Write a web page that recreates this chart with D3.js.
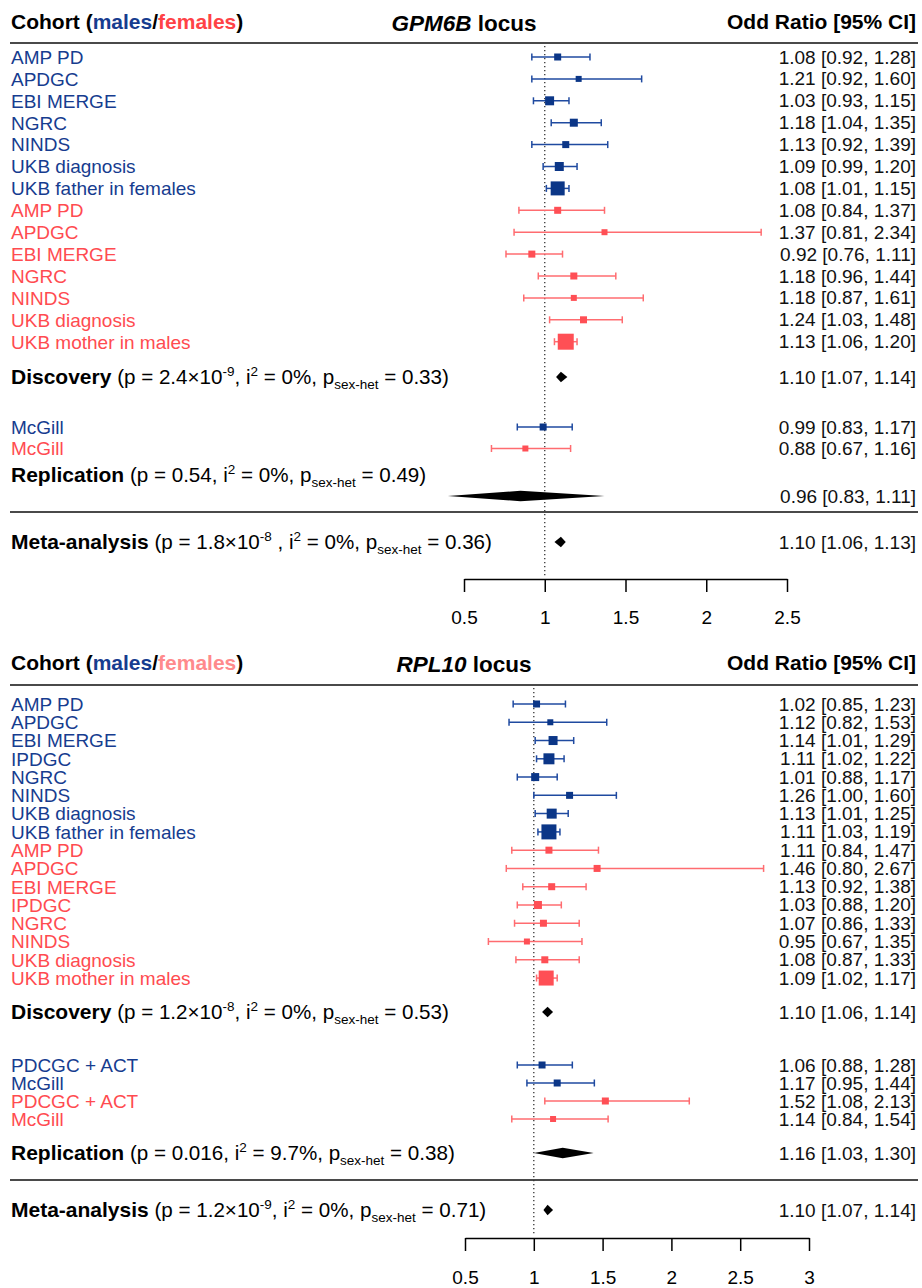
<!DOCTYPE html>
<html><head><meta charset="utf-8">
<script src="https://cdn.jsdelivr.net/npm/d3@7/dist/d3.min.js"></script>
<style>
body{margin:0;background:#fff}
svg{display:block}
text{font-family:"Liberation Sans",Arial,Helvetica,sans-serif}
</style>
</head><body>
<svg id="chart" width="922" height="1288"></svg>
<script>
// ================= GPM6B locus =================
const gpmCohorts = ["AMP PD","APDGC","EBI MERGE","NGRC","NINDS","UKB diagnosis","UKB father in females",
                    "AMP PD","APDGC","EBI MERGE","NGRC","NINDS","UKB diagnosis","UKB mother in males"];
const gpmSex = ["m","m","m","m","m","m","m","f","f","f","f","f","f","f"];
const gpmOR  = [1.08,1.21,1.03,1.18,1.13,1.09,1.08, 1.08,1.37,0.92,1.18,1.18,1.24,1.13];
const gpmLo  = [0.92,0.92,0.93,1.04,0.92,0.99,1.01, 0.84,0.81,0.76,0.96,0.87,1.03,1.06];
const gpmHi  = [1.28,1.60,1.15,1.35,1.39,1.20,1.15, 1.37,2.34,1.11,1.44,1.61,1.48,1.20];
const gpmWeight = [7,6,9,8,7,9,14, 7,6,7,7,6,7,16];

const gpmRepCohorts = ["McGill","McGill"];
const gpmRepSex = ["m","f"];
const gpmRepOR = [0.99,0.88];
const gpmRepLo = [0.83,0.67];
const gpmRepHi = [1.17,1.16];
const gpmRepWeight = [7,6];

const gpmSumLabels = ["Discovery","Replication","Meta-analysis"];
const gpmSumOR = [1.10,0.96,1.10];
const gpmSumLo = [1.07,0.83,1.06];
const gpmSumHi = [1.14,1.11,1.13];
// diamond extents as drawn in the figure
const gpmDiamondLo  = [1.07,0.40,1.06];
const gpmDiamondMid = [1.10,0.85,1.10];
const gpmDiamondHi  = [1.14,1.37,1.13];
const gpmPMantissa = ["2.4×10","0.54","1.8×10"];
const gpmPExponent = ["-9","","-8"];
const gpmPSep = [", ",", "," , "];
const gpmI2 = ["0%","0%","0%"];
const gpmPSexHet = ["0.33","0.49","0.36"];
const gpmTicks = [0.5,1,1.5,2,2.5];

// ================= RPL10 locus =================
const rplCohorts = ["AMP PD","APDGC","EBI MERGE","IPDGC","NGRC","NINDS","UKB diagnosis","UKB father in females",
                    "AMP PD","APDGC","EBI MERGE","IPDGC","NGRC","NINDS","UKB diagnosis","UKB mother in males"];
const rplSex = ["m","m","m","m","m","m","m","m","f","f","f","f","f","f","f","f"];
const rplOR  = [1.02,1.12,1.14,1.11,1.01,1.26,1.13,1.11, 1.11,1.46,1.13,1.03,1.07,0.95,1.08,1.09];
const rplLo  = [0.85,0.82,1.01,1.02,0.88,1.00,1.01,1.03, 0.84,0.80,0.92,0.88,0.86,0.67,0.87,1.02];
const rplHi  = [1.23,1.53,1.29,1.22,1.17,1.60,1.25,1.19, 1.47,2.67,1.38,1.20,1.33,1.35,1.33,1.17];
const rplWeight = [7,6,9,11,8,7,10,15, 7,7,7,8,7,6,7,15];

const rplRepCohorts = ["PDCGC + ACT","McGill","PDCGC + ACT","McGill"];
const rplRepSex = ["m","m","f","f"];
const rplRepOR = [1.06,1.17,1.52,1.14];
const rplRepLo = [0.88,0.95,1.08,0.84];
const rplRepHi = [1.28,1.44,2.13,1.54];
const rplRepWeight = [7,7,7,6];

const rplSumLabels = ["Discovery","Replication","Meta-analysis"];
const rplSumOR = [1.10,1.16,1.10];
const rplSumLo = [1.06,1.03,1.07];
const rplSumHi = [1.14,1.30,1.14];
const rplDiamondLo  = [1.06,1.00,1.07];
const rplDiamondMid = [1.10,1.21,1.10];
const rplDiamondHi  = [1.14,1.435,1.14];
const rplPMantissa = ["1.2×10","0.016","1.2×10"];
const rplPExponent = ["-8","","-9"];
const rplPSep = [", ",", ",", "];
const rplI2 = ["0%","9.7%","0%"];
const rplPSexHet = ["0.53","0.38","0.71"];
const rplTicks = [0.5,1,1.5,2,2.5,3];

// ================= styles =================
const MALE = "#0b3687", MALE_LINE = "#1f4aa0", MALE_TEXT = "#163c8f";
const FEM = "#ff4f55", FEM_LINE = "#ff6c70", FEM_TEXT = "#ff4b50";
const FS = 19, FSH = 21, FST = 22.5, FSS = 20.6, FSSB = 21, FSUP = 13.5;

const svg = d3.select("#chart");

function fmt(v){ return v.toFixed(2); }

function drawPanel(cfg, d) {
  const g = svg.append("g");
  const x = d3.scaleLinear().domain(cfg.domain).range(cfg.range);
  const yStudy = d3.scaleLinear().domain([0,1]).range([cfg.y0, cfg.y0 + cfg.step]);
  const yRep = d3.scaleLinear().domain([0,1]).range([cfg.repY0, cfg.repY0 + cfg.repStep]);

  // header
  const h = g.append("text").attr("x", 11).attr("y", cfg.headerBase)
    .attr("font-size", FSH).attr("font-weight", "bold").attr("fill", "#000");
  h.append("tspan").text("Cohort (");
  h.append("tspan").attr("fill", MALE_TEXT).text("males");
  h.append("tspan").text("/");
  h.append("tspan").attr("fill", cfg.femHeader).text("females");
  h.append("tspan").text(")");

  const t = g.append("text").attr("x", cfg.titleX).attr("y", cfg.headerBase + 1.5)
    .attr("text-anchor", "middle").attr("font-size", FST).attr("font-weight", "bold");
  t.append("tspan").attr("font-style", "italic").text(cfg.gene);
  t.append("tspan").text(" locus");

  g.append("text").attr("x", 916).attr("y", cfg.headerBase).attr("text-anchor", "end")
    .attr("font-size", FSH).attr("font-weight", "bold").text("Odd Ratio [95% CI]");

  g.append("line").attr("x1", 10).attr("x2", 918).attr("y1", cfg.headerLine).attr("y2", cfg.headerLine)
    .attr("stroke", "#4a4a4a").attr("stroke-width", 2);
  g.append("line").attr("x1", 10).attr("x2", 918).attr("y1", cfg.sepY).attr("y2", cfg.sepY)
    .attr("stroke", "#4a4a4a").attr("stroke-width", 2);

  // reference line at OR = 1
  g.append("line").attr("x1", x(1)).attr("x2", x(1)).attr("y1", cfg.dotTop).attr("y2", cfg.dotBottom)
    .attr("stroke", "#333").attr("stroke-width", 1.3).attr("stroke-dasharray", "1.3,2.7");

  function studyRows(cohorts, sex, or, lo, hi, w, yf) {
    const rows = cohorts.map((c,i) => ({c, s: sex[i], or: or[i], lo: lo[i], hi: hi[i], w: w[i], y: yf(i)}));
    const rg = g.append("g").selectAll("g").data(rows).join("g");
    rg.append("text").attr("x", 11).attr("y", r => r.y + 6.8).attr("font-size", FS)
      .attr("fill", r => r.s === "m" ? MALE_TEXT : FEM_TEXT).text(r => r.c);
    rg.append("text").attr("x", 916).attr("y", r => r.y + 6.5).attr("text-anchor", "end").attr("font-size", FS)
      .attr("fill", "#111").text(r => `${fmt(r.or)} [${fmt(r.lo)}, ${fmt(r.hi)}]`);
    const col = r => r.s === "m" ? MALE_LINE : FEM_LINE;
    rg.append("line").attr("x1", r => x(r.lo)).attr("x2", r => x(r.hi)).attr("y1", r => r.y).attr("y2", r => r.y)
      .attr("stroke", col).attr("stroke-width", 1.5);
    rg.append("line").attr("x1", r => x(r.lo)).attr("x2", r => x(r.lo)).attr("y1", r => r.y - 3.5).attr("y2", r => r.y + 3.5)
      .attr("stroke", col).attr("stroke-width", 1.5);
    rg.append("line").attr("x1", r => x(r.hi)).attr("x2", r => x(r.hi)).attr("y1", r => r.y - 3.5).attr("y2", r => r.y + 3.5)
      .attr("stroke", col).attr("stroke-width", 1.5);
    rg.append("rect").attr("x", r => x(r.or) - r.w/2).attr("y", r => r.y - r.w/2)
      .attr("width", r => r.w).attr("height", r => r.w)
      .attr("fill", r => r.s === "m" ? MALE : FEM);
  }
  studyRows(d.cohorts, d.sex, d.or, d.lo, d.hi, d.w, i => yStudy(i));
  studyRows(d.repCohorts, d.repSex, d.repOr, d.repLo, d.repHi, d.repW, i => yRep(i));

  // summaries
  const labelY = [cfg.discY, cfg.repLabelY, cfg.metaY];
  const diamY = [cfg.discY, cfg.repDiamY, cfg.metaY];
  d.sumLabels.forEach((lab, i) => {
    const ty = labelY[i] + 7.3;
    const tx = g.append("text").attr("x", 11).attr("y", ty).attr("font-size", FSS).attr("fill", "#000");
    tx.append("tspan").attr("font-weight", "bold").attr("font-size", FSSB).text(lab);
    tx.append("tspan").text(" (p = " + d.pMant[i]);
    if (d.pExp[i]) {
      tx.append("tspan").attr("font-size", FSUP).attr("dy", -8.5).text(d.pExp[i]);
      tx.append("tspan").attr("dy", 8.5).text(d.pSep[i] + "i");
    } else {
      tx.append("tspan").text(d.pSep[i] + "i");
    }
    tx.append("tspan").attr("font-size", FSUP).attr("dy", -8.5).text("2");
    tx.append("tspan").attr("dy", 8.5).text(" = " + d.i2[i] + ", p");
    tx.append("tspan").attr("font-size", FSUP).attr("dy", 4.5).text("sex-het");
    tx.append("tspan").attr("dy", -4.5).text(" = " + d.pSexHet[i] + ")");

    const dy = diamY[i];
    g.append("text").attr("x", 916).attr("y", dy + 6.5).attr("text-anchor", "end").attr("font-size", FS)
      .attr("fill", "#111").text(`${fmt(d.sumOr[i])} [${fmt(d.sumLo[i])}, ${fmt(d.sumHi[i])}]`);
    const hh = 5.2;
    const pts = [[x(d.dLo[i]), dy], [x(d.dMid[i]), dy - hh], [x(d.dHi[i]), dy], [x(d.dMid[i]), dy + hh]];
    g.append("polygon").attr("points", pts.map(p => p.join(",")).join(" ")).attr("fill", "#000");
  });

  // axis
  const ax = g.append("g").attr("transform", `translate(0,${cfg.axisY})`)
    .call(d3.axisBottom(x).tickValues(cfg.ticks).tickSize(13).tickSizeOuter(0).tickPadding(cfg.tickPad).tickFormat(v => String(v)));
  ax.select(".domain").attr("stroke", "#000").attr("stroke-width", 1.5);
  ax.selectAll(".tick line").attr("stroke", "#000").attr("stroke-width", 1.5);
  ax.selectAll(".tick text").attr("font-size", FS).attr("fill", "#000")
    .attr("font-family", "'Liberation Sans',Arial,Helvetica,sans-serif");
}

drawPanel({
  gene: "GPM6B", femHeader: "#ff4246", titleX: 464,
  domain: [0.5, 2.5], range: [464, 787], ticks: gpmTicks,
  headerBase: 29, headerLine: 43, y0: 57, step: 21.9,
  discY: 377, repY0: 427, repStep: 21.5, repLabelY: 475, repDiamY: 496,
  sepY: 512, metaY: 542, axisY: 579, dotTop: 46, dotBottom: 576, tickPad: 18.5
}, {
  cohorts: gpmCohorts, sex: gpmSex, or: gpmOR, lo: gpmLo, hi: gpmHi, w: gpmWeight,
  repCohorts: gpmRepCohorts, repSex: gpmRepSex, repOr: gpmRepOR, repLo: gpmRepLo, repHi: gpmRepHi, repW: gpmRepWeight,
  sumLabels: gpmSumLabels, sumOr: gpmSumOR, sumLo: gpmSumLo, sumHi: gpmSumHi,
  dLo: gpmDiamondLo, dMid: gpmDiamondMid, dHi: gpmDiamondHi,
  pMant: gpmPMantissa, pExp: gpmPExponent, pSep: gpmPSep, i2: gpmI2, pSexHet: gpmPSexHet
});

drawPanel({
  gene: "RPL10", femHeader: "#ff8a8c", titleX: 464,
  domain: [0.5, 3], range: [465, 809], ticks: rplTicks,
  headerBase: 670, headerLine: 685, y0: 704, step: 18.27,
  discY: 1012, repY0: 1065, repStep: 18, repLabelY: 1153, repDiamY: 1153,
  sepY: 1180, metaY: 1210, axisY: 1238, dotTop: 688, dotBottom: 1234, tickPad: 19.5
}, {
  cohorts: rplCohorts, sex: rplSex, or: rplOR, lo: rplLo, hi: rplHi, w: rplWeight,
  repCohorts: rplRepCohorts, repSex: rplRepSex, repOr: rplRepOR, repLo: rplRepLo, repHi: rplRepHi, repW: rplRepWeight,
  sumLabels: rplSumLabels, sumOr: rplSumOR, sumLo: rplSumLo, sumHi: rplSumHi,
  dLo: rplDiamondLo, dMid: rplDiamondMid, dHi: rplDiamondHi,
  pMant: rplPMantissa, pExp: rplPExponent, pSep: rplPSep, i2: rplI2, pSexHet: rplPSexHet
});
</script>
</body></html>
